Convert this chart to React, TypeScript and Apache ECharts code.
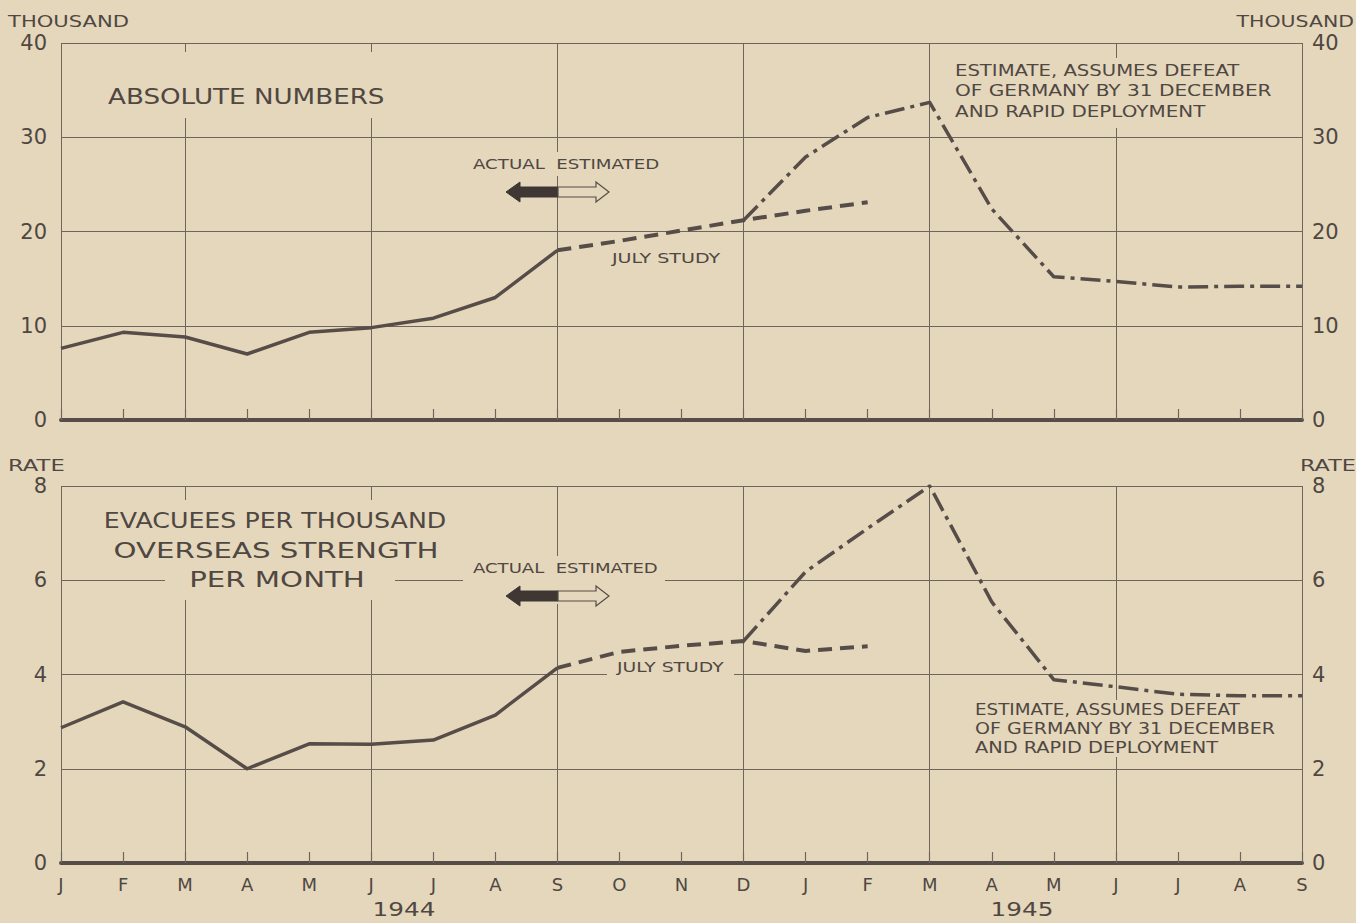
import React, { useEffect, useRef } from "react";
import * as echarts from "echarts";

const categories = [
  "Jan 1944", "Feb 1944", "Mar 1944", "Apr 1944", "May 1944", "Jun 1944", "Jul 1944",
  "Aug 1944", "Sep 1944", "Oct 1944", "Nov 1944", "Dec 1944", "Jan 1945", "Feb 1945",
  "Mar 1945", "Apr 1945", "May 1945", "Jun 1945", "Jul 1945", "Aug 1945", "Sep 1945",
];
const monthLetters = ["J", "F", "M", "A", "M", "J", "J", "A", "S", "O", "N", "D", "J", "F", "M", "A", "M", "J", "J", "A", "S"];

// Absolute numbers (thousand)
const absActual = [7.6, 9.3, 8.8, 7.0, 9.3, 9.8, 10.8, 13.0, 18.0]; // Jan–Sep 1944
const absJulyStudy = [18.0, 19.0, 20.1, 21.2, 22.2, 23.1]; // Sep 1944–Feb 1945
const absEstimate = [21.2, 27.9, 32.1, 33.7, 22.4, 15.2, 14.7, 14.1, 14.2, 14.2]; // Dec 1944–Sep 1945

// Rate per thousand overseas strength per month
const rateActual = [2.87, 3.42, 2.89, 2.0, 2.53, 2.52, 2.61, 3.14, 4.14];
const rateJulyStudy = [4.14, 4.48, 4.61, 4.71, 4.5, 4.6];
const rateEstimate = [4.71, 6.18, 7.1, 8.0, 5.54, 3.89, 3.74, 3.58, 3.55, 3.55];

const absTicks = [0, 10, 20, 30, 40];
const rateTicks = [0, 2, 4, 6, 8];

const BG = "#e5d7bc";
const INK = "#574d48";
const GRID = "#6e655f";
const TXT = "#4f4742";
const FONT = "DejaVu Sans";

function place(values: number[], start: number): (number | null)[] {
  const out: (number | null)[] = categories.map(() => null);
  values.forEach((v, i) => (out[start + i] = v));
  return out;
}

export default function App() {
  const ref = useRef<HTMLDivElement>(null);
  useEffect(() => {
    document.body.style.margin = "0";
    document.body.style.background = BG;
    const chart = echarts.init(ref.current!, null, { renderer: "svg" });

    const xAxisBase = (gridIndex: number, showLabels: boolean) => ({
      type: "category",
      gridIndex,
      data: categories,
      boundaryGap: false,
      axisLine: { show: true, lineStyle: { color: INK, width: 4 } },
      axisTick: { show: true, inside: true, length: 11, interval: 0, lineStyle: { color: GRID, width: 1.2 } },
      axisLabel: {
        show: showLabels,
        interval: 0,
        margin: 12,
        color: TXT,
        fontFamily: FONT,
        fontSize: 18,
        formatter: (_v: string, i: number) => monthLetters[i],
      },
      splitLine: {
        show: true,
        interval: (i: number) => i === 0 || i % 3 === 2,
        lineStyle: { color: GRID, width: 1 },
      },
    });

    const yAxisBase = (gridIndex: number, pos: "left" | "right", max: number, interval: number, ticks: number[]) => ({
      type: "value",
      gridIndex,
      position: pos,
      min: 0,
      max,
      interval,
      axisLine: { show: false },
      axisTick: { show: false },
      axisLabel: {
        color: TXT,
        fontFamily: FONT,
        fontSize: 21,
        margin: pos === "left" ? 14 : 10,
        formatter: (v: number) => (ticks.includes(v) ? String(v) : ""),
      },
      splitLine: { show: pos === "left", lineStyle: { color: GRID, width: 1 } },
    });

    const lineSeries = (name: string, data: (number | null)[], xi: number, yi: number, type: any, width: number) => ({
      name,
      type: "line",
      xAxisIndex: xi,
      yAxisIndex: yi,
      data,
      symbol: "none",
      connectNulls: false,
      lineStyle: { color: INK, width, type, cap: "butt", join: "round" },
      z: 3,
    });

    const bgRect = (x: number, y: number, w: number, h: number) => ({
      type: "rect",
      shape: { x, y, width: w, height: h },
      style: { fill: BG },
      z: 1,
      silent: true,
    });
    const txt = (text: string, x: number, y: number, size: number, sx = 1, align = "left") => ({
      type: "text",
      x,
      y,
      scaleX: sx,
      style: {
        text,
        fill: TXT,
        fontFamily: FONT,
        fontSize: size,
        textAlign: align,
        textVerticalAlign: "middle",
      },
      z: 4,
      silent: true,
    });
    const arrows = (cx: number, cy: number) => [
      {
        type: "polygon",
        shape: {
          points: [
            [cx, cy - 5], [cx - 38, cy - 5], [cx - 38, cy - 10], [cx - 52, cy], [cx - 38, cy + 10], [cx - 38, cy + 5], [cx, cy + 5],
          ],
        },
        style: { fill: "#3f3734", stroke: "#3f3734", lineWidth: 1 },
        z: 4,
      },
      {
        type: "polygon",
        shape: {
          points: [
            [cx, cy - 5], [cx + 38, cy - 5], [cx + 38, cy - 10], [cx + 51, cy], [cx + 38, cy + 10], [cx + 38, cy + 5], [cx, cy + 5],
          ],
        },
        style: { fill: BG, stroke: INK, lineWidth: 1.2 },
        z: 4,
      },
    ];

    chart.setOption({
      animation: false,
      backgroundColor: BG,
      grid: [
        { left: 61, right: 54, top: 43, height: 377, containLabel: false },
        { left: 61, right: 54, top: 486, height: 377, containLabel: false },
      ],
      xAxis: [xAxisBase(0, false), xAxisBase(1, true)],
      yAxis: [
        yAxisBase(0, "left", 40, 10, absTicks),
        yAxisBase(0, "right", 40, 10, absTicks),
        yAxisBase(1, "left", 8, 2, rateTicks),
        yAxisBase(1, "right", 8, 2, rateTicks),
      ],
      series: [
        lineSeries("Actual (absolute)", place(absActual, 0), 0, 0, "solid", 3.5),
        lineSeries("July study (absolute)", place(absJulyStudy, 8), 0, 0, [14, 8], 4),
        lineSeries("Estimate (absolute)", place(absEstimate, 11), 0, 0, [20, 6, 4, 6], 3.5),
        lineSeries("Actual (rate)", place(rateActual, 0), 1, 2, "solid", 3.5),
        lineSeries("July study (rate)", place(rateJulyStudy, 8), 1, 2, [14, 8], 4),
        lineSeries("Estimate (rate)", place(rateEstimate, 11), 1, 2, [20, 6, 4, 6], 3.5),
      ],
      graphic: [
        // axis unit names
        txt("THOUSAND", 8, 21, 16, 1.32),
        txt("THOUSAND", 1354, 21, 16, 1.28, "right"),
        txt("RATE", 8, 466, 16, 1.42),
        txt("RATE", 1356, 466, 16, 1.4, "right"),
        // top panel
        bgRect(100, 52, 320, 66),
        txt("ABSOLUTE NUMBERS", 108, 97, 22, 1.19),
        bgRect(465, 152, 200, 24),
        txt("ACTUAL  ESTIMATED", 473, 164, 14, 1.3),
        ...arrows(558, 192),
        bgRect(605, 248, 122, 20),
        txt("JULY STUDY", 612, 258, 14, 1.36),
        bgRect(946, 58, 336, 70),
        txt("ESTIMATE, ASSUMES DEFEAT", 955, 71, 15, 1.31),
        txt("OF GERMANY BY 31 DECEMBER", 955, 91, 15, 1.34),
        txt("AND RAPID DEPLOYMENT", 955, 112, 15, 1.33),
        // bottom panel
        bgRect(165, 500, 230, 100),
        txt("EVACUEES PER THOUSAND", 275, 521, 22, 1.15, "center"),
        txt("OVERSEAS STRENGTH", 276, 550, 22, 1.33, "center"),
        txt("PER MONTH", 277, 579, 22, 1.33, "center"),
        bgRect(463, 556, 202, 48),
        txt("ACTUAL  ESTIMATED", 473, 568, 14, 1.29),
        ...arrows(558, 596),
        bgRect(607, 657, 127, 22),
        txt("JULY STUDY", 617, 667, 14, 1.34),
        bgRect(966, 700, 316, 57),
        txt("ESTIMATE, ASSUMES DEFEAT", 975, 710, 15, 1.22),
        txt("OF GERMANY BY 31 DECEMBER", 975, 729, 15, 1.27),
        txt("AND RAPID DEPLOYMENT", 975, 748, 15, 1.29),
        // years
        txt("1944", 404, 910, 19, 1.3, "center"),
        txt("1945", 1022, 910, 19, 1.3, "center"),
      ],
    });
    return () => chart.dispose();
  }, []);
  return <div ref={ref} style={{ width: 1356, height: 923, background: BG }} />;
}
